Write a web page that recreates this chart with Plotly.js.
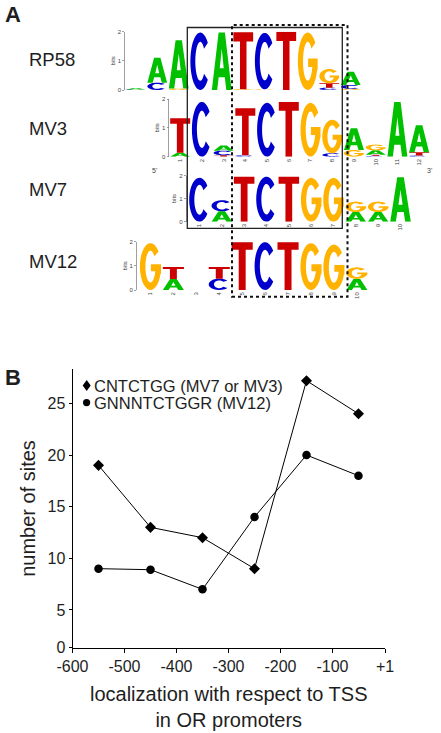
<!DOCTYPE html>
<html><head><meta charset="utf-8">
<script src="https://cdn.plot.ly/plotly-3.0.1.min.js"></script>
<style>html,body{margin:0;padding:0;background:#fff}#chart{width:441px;height:733px}</style>
</head><body><div id="chart"></div>
<script>
// ---------- Panel B data ----------
const tssBins = [-550, -450, -350, -250, -150, -50];
const sitesCNTCTGG = [19, 13, 12, 9, 27.2, 24];
const sitesGNNNTCTGGR = [9, 8.9, 7, 14, 20, 18];
const xTickVals = [-600, -500, -400, -300, -200, -100, 1];
const xTickText = ['-600', '-500', '-400', '-300', '-200', '-100', '+1'];
const yTickVals = [5, 10, 15, 20, 25];
const yTickText = ['5', '10', '15', '20', '25'];
const seriesNames = ['CNTCTGG (MV7 or MV3)', 'GNNNTCTGGR (MV12)'];

// ---------- Panel A data: bits per base per position ----------
const motifNames = ['RP58', 'MV3', 'MV7', 'MV12'];
const rp58A = [0.04, 0.86, 1.66, 0, 1.97, 0, 0, 0, 0, 0, 0.46];
const rp58C = [0.02, 0.25, 0, 1.97, 0, 0, 1.94, 0, 0, 0.08, 0.13];
const rp58G = [0, 0, 0.05, 0, 0, 0.03, 0.02, 0, 1.97, 0.49, 0.04];
const rp58T = [0, 0, 0, 0, 0, 1.95, 0, 2.0, 0, 0.15, 0];
const mv3A = [0.14, 0, 0.18, 0, 0, 0, 0, 0, 0.76, 0.15, 1.9, 0.94];
const mv3C = [0, 1.9, 0.16, 0.05, 1.87, 0, 0, 0.12, 0, 0.03, 0, 0.04];
const mv3G = [0, 0, 0, 0, 0, 0, 1.87, 1.16, 0.23, 0.2, 0, 0];
const mv3T = [1.19, 0, 0.05, 1.63, 0, 1.9, 0, 0, 0, 0.04, 0, 0.11];
const mv7A = [0, 0.45, 0, 0, 0, 0, 0, 0.42, 0.42, 1.92];
const mv7C = [1.9, 0.48, 0, 1.95, 0, 0, 0, 0, 0, 0];
const mv7G = [0, 0, 0, 0, 0, 1.9, 1.9, 0.45, 0.45, 0];
const mv7T = [0, 0, 1.95, 0, 1.95, 0, 0, 0, 0, 0];
const mv12A = [0, 0.46, 0, 0, 0, 0, 0, 0, 0, 0.46];
const mv12C = [0, 0, 0, 0.47, 0, 1.98, 0, 0, 0, 0];
const mv12G = [1.94, 0, 0, 0, 0, 0, 0, 1.94, 1.88, 0.48];
const mv12T = [0, 0.49, 0, 0.48, 1.98, 0, 1.98, 0, 0, 0];
const baseColors = {A: '#00c000', C: '#0000cc', G: '#ffb300', T: '#cc0000'};

const motifs = [
  {A: rp58A, C: rp58C, G: rp58G, T: rp58T},
  {A: mv3A, C: mv3C, G: mv3G, T: mv3T},
  {A: mv7A, C: mv7C, G: mv7G, T: mv7T},
  {A: mv12A, C: mv12C, G: mv12G, T: mv12T}
];

// ---------- geometry (pixels) ----------
const W = 441, H = 733;
const fx = p => p / W;
const fy = p => 1 - p / H;
const FONT = 'Liberation Sans, Arial, sans-serif';
const TXT = '#1e1e1e';

// logo frames: [left px, right px, range lo, range hi, y px of 0 bits, y px of 2 bits]
const logoFrames = [
  [125, 361.5, 0.5, 11.5, 90, 31.7],
  [169.3, 430, 0.5, 12.5, 156.7, 99],
  [186.5, 411.7, 0.42, 10.5, 221.7, 175.5],
  [136.7, 368.3, 0.4, 10.5, 290, 241.7]
];

// ---------- glyphs in unit box ----------
function arc(rx, ry, a0, a1, n) {
  const pts = [];
  for (let i = 0; i <= n; i++) {
    const a = (a0 + (a1 - a0) * i / n) * Math.PI / 180;
    pts.push([0.5 + rx * Math.cos(a), 0.5 + ry * Math.sin(a)]);
  }
  return pts;
}
const glyphs = {
  T: [[[0,1],[1,1],[1,0.84],[0.665,0.84],[0.665,0],[0.335,0],[0.335,0.84],[0,0.84]]],
  A: [[[0,0],[0.34,1],[0.66,1],[1,0],[0.73,0],[0.655,0.22],[0.345,0.22],[0.27,0]],
      [[0.6,0.38],[0.5,0.72],[0.4,0.38]]],
  C: [arc(0.5, 0.5, 40, 320, 30).concat(arc(0.25, 0.34, 320, 40, 24))],
  G: [arc(0.5, 0.5, 40, 340, 30).concat([[1,0.36],[1,0.55],[0.52,0.55],[0.52,0.40]])
        .concat(arc(0.24, 0.34, 343, 40, 24))]
};
function glyphPath(base, x0, x1, y0, y1) {
  return glyphs[base].map(poly => 'M' + poly.map(p =>
    (x0 + p[0] * (x1 - x0)).toFixed(4) + ',' + (y0 + p[1] * (y1 - y0)).toFixed(4)).join('L') + 'Z').join(' ');
}

const shapes = [];
const annotations = [];
const traces = [];
const layout = {
  width: W, height: H, margin: {l: 0, r: 0, t: 0, b: 0},
  paper_bgcolor: '#fff', plot_bgcolor: 'rgba(0,0,0,0)',
  showlegend: false, font: {family: FONT, color: TXT}
};

// logos
motifs.forEach((m, k) => {
  const f = logoFrames[k];
  const id = k + 2;
  const n = m.A.length;
  const ticks = [], tickText = [];
  for (let i = 0; i < n; i++) { ticks.push(i + 1); tickText.push(String(i + 1)); }
  layout['xaxis' + id] = {
    domain: [fx(f[0]), fx(f[1])], range: [f[2], f[3]], anchor: 'y' + id,
    showgrid: false, zeroline: false, showline: false, ticks: '',
    tickvals: k === 0 ? [] : ticks, ticktext: k === 0 ? [] : tickText,
    tickangle: -90, tickfont: {size: 6, color: '#444', family: FONT}, fixedrange: true
  };
  layout['yaxis' + id] = {
    domain: [fy(f[4]), fy(f[5])], range: [0, 2], anchor: 'x' + id,
    showgrid: false, zeroline: false, showline: true, linecolor: '#777', linewidth: 0.7,
    ticks: 'outside', ticklen: 2, tickcolor: '#777', tickwidth: 0.7,
    tickvals: [0, 1, 2], ticktext: ['0', '1', '2'],
    tickfont: {size: 6, color: '#444', family: FONT},
    title: {text: 'bits', font: {size: 6, color: '#444', family: FONT}, standoff: 1}, fixedrange: true
  };
  traces.push({x: [], y: [], xaxis: 'x' + id, yaxis: 'y' + id, type: 'scatter', hoverinfo: 'skip'});
  for (let i = 0; i < n; i++) {
    const stack = ['A', 'C', 'G', 'T'].map(b => [b, m[b][i]]).filter(d => d[1] > 0)
      .sort((a, b) => a[1] - b[1]);
    let y = 0;
    stack.forEach(([b, h]) => {
      shapes.push({type: 'path', xref: 'x' + id, yref: 'y' + id,
        path: glyphPath(b, i + 1 - 0.46, i + 1 + 0.46, y, y + h),
        fillcolor: baseColors[b], line: {width: 0}, fillrule: 'evenodd'});
      y += h;
    });
  }
  // row label
  const rowY = [60, 128.3, 189.5, 261][k];
  annotations.push({xref: 'paper', yref: 'paper', x: fx(27), y: fy(rowY), xanchor: 'left', yanchor: 'middle',
    text: motifNames[k], showarrow: false, font: {size: 18.5, family: FONT, color: TXT}});
});
// 5' / 3' marks of MV3
annotations.push({xref: 'paper', yref: 'paper', x: fx(154), y: fy(165), text: "5'", showarrow: false,
  font: {size: 7, color: '#444', family: FONT}});
annotations.push({xref: 'paper', yref: 'paper', x: fx(434), y: fy(165), text: "3'", showarrow: false,
  font: {size: 7, color: '#444', family: FONT}});

// boxes around the core motif
shapes.push({type: 'rect', xref: 'paper', yref: 'paper', x0: fx(187.3), x1: fx(342.3), y0: fy(228.3), y1: fy(27.5),
  line: {color: '#222', width: 1.3}});
shapes.push({type: 'rect', xref: 'paper', yref: 'paper', x0: fx(232), x1: fx(347.5), y0: fy(296.7), y1: fy(25),
  line: {color: '#111', width: 2, dash: 'dot'}});

// panel letters
annotations.push({xref: 'paper', yref: 'paper', x: fx(3), y: fy(15), xanchor: 'left', yanchor: 'middle',
  text: '<b>A</b>', showarrow: false, font: {size: 22, family: FONT, color: TXT}});
annotations.push({xref: 'paper', yref: 'paper', x: fx(3), y: fy(377), xanchor: 'left', yanchor: 'middle',
  text: '<b>B</b>', showarrow: false, font: {size: 22, family: FONT, color: TXT}});

// ---------- Panel B ----------
const yBottom = 1.35;
traces.push({x: tssBins, y: sitesCNTCTGG, name: seriesNames[0], type: 'scatter', mode: 'lines+markers',
  xaxis: 'x', yaxis: 'y', line: {color: '#000', width: 1}, marker: {symbol: 'diamond', size: 8.5, color: '#000'}});
traces.push({x: tssBins, y: sitesGNNNTCTGGR, name: seriesNames[1], type: 'scatter', mode: 'lines+markers',
  xaxis: 'x', yaxis: 'y', line: {color: '#000', width: 1}, marker: {symbol: 'circle', size: 8.5, color: '#000'}});
layout.xaxis = {
  domain: [fx(72.5), fx(385)], range: [-600, 1], anchor: 'y',
  showgrid: false, zeroline: false, showline: true, linecolor: '#000', linewidth: 1,
  ticks: 'outside', ticklen: 4, tickcolor: '#000', tickwidth: 1,
  tickvals: xTickVals, ticktext: xTickText, tickfont: {size: 16, family: FONT, color: TXT},
  title: {text: 'localization with respect to TSS<br>in OR promoters', font: {size: 20, family: FONT, color: TXT}, standoff: 13},
  fixedrange: true
};
layout.yaxis = {
  domain: [fy(647.7), fy(369.3)], range: [yBottom, 28.3], anchor: 'x',
  showgrid: false, zeroline: false, showline: true, linecolor: '#000', linewidth: 1,
  ticks: 'outside', ticklen: 3, tickcolor: '#000', tickwidth: 1,
  tickvals: [yBottom].concat(yTickVals), ticktext: ['0'].concat(yTickText),
  tickfont: {size: 16, family: FONT, color: TXT},
  title: {text: 'number of sites', font: {size: 20, family: FONT, color: TXT}, standoff: 6},
  fixedrange: true
};
// legend (drawn inside the plot)
shapes.push({type: 'path', xref: 'paper', yref: 'paper',
  path: 'M' + fx(86.7) + ',' + fy(380) + 'L' + fx(90.7) + ',' + fy(385.5) + 'L' + fx(86.7) + ',' + fy(391) +
        'L' + fx(82.7) + ',' + fy(385.5) + 'Z', fillcolor: '#000', line: {width: 0}});
shapes.push({type: 'circle', xref: 'paper', yref: 'paper', x0: fx(83), x1: fx(90.2), y0: fy(406.2), y1: fy(399),
  fillcolor: '#000', line: {width: 0}});
annotations.push({xref: 'paper', yref: 'paper', x: fx(92), y: fy(385.5), xanchor: 'left', yanchor: 'middle',
  text: seriesNames[0], showarrow: false, font: {size: 16.5, family: FONT, color: TXT}});
annotations.push({xref: 'paper', yref: 'paper', x: fx(92), y: fy(403), xanchor: 'left', yanchor: 'middle',
  text: seriesNames[1], showarrow: false, font: {size: 16.5, family: FONT, color: TXT}});

layout.shapes = shapes;
layout.annotations = annotations;
Plotly.newPlot('chart', traces, layout, {staticPlot: true, displayModeBar: false});
</script></body></html>
